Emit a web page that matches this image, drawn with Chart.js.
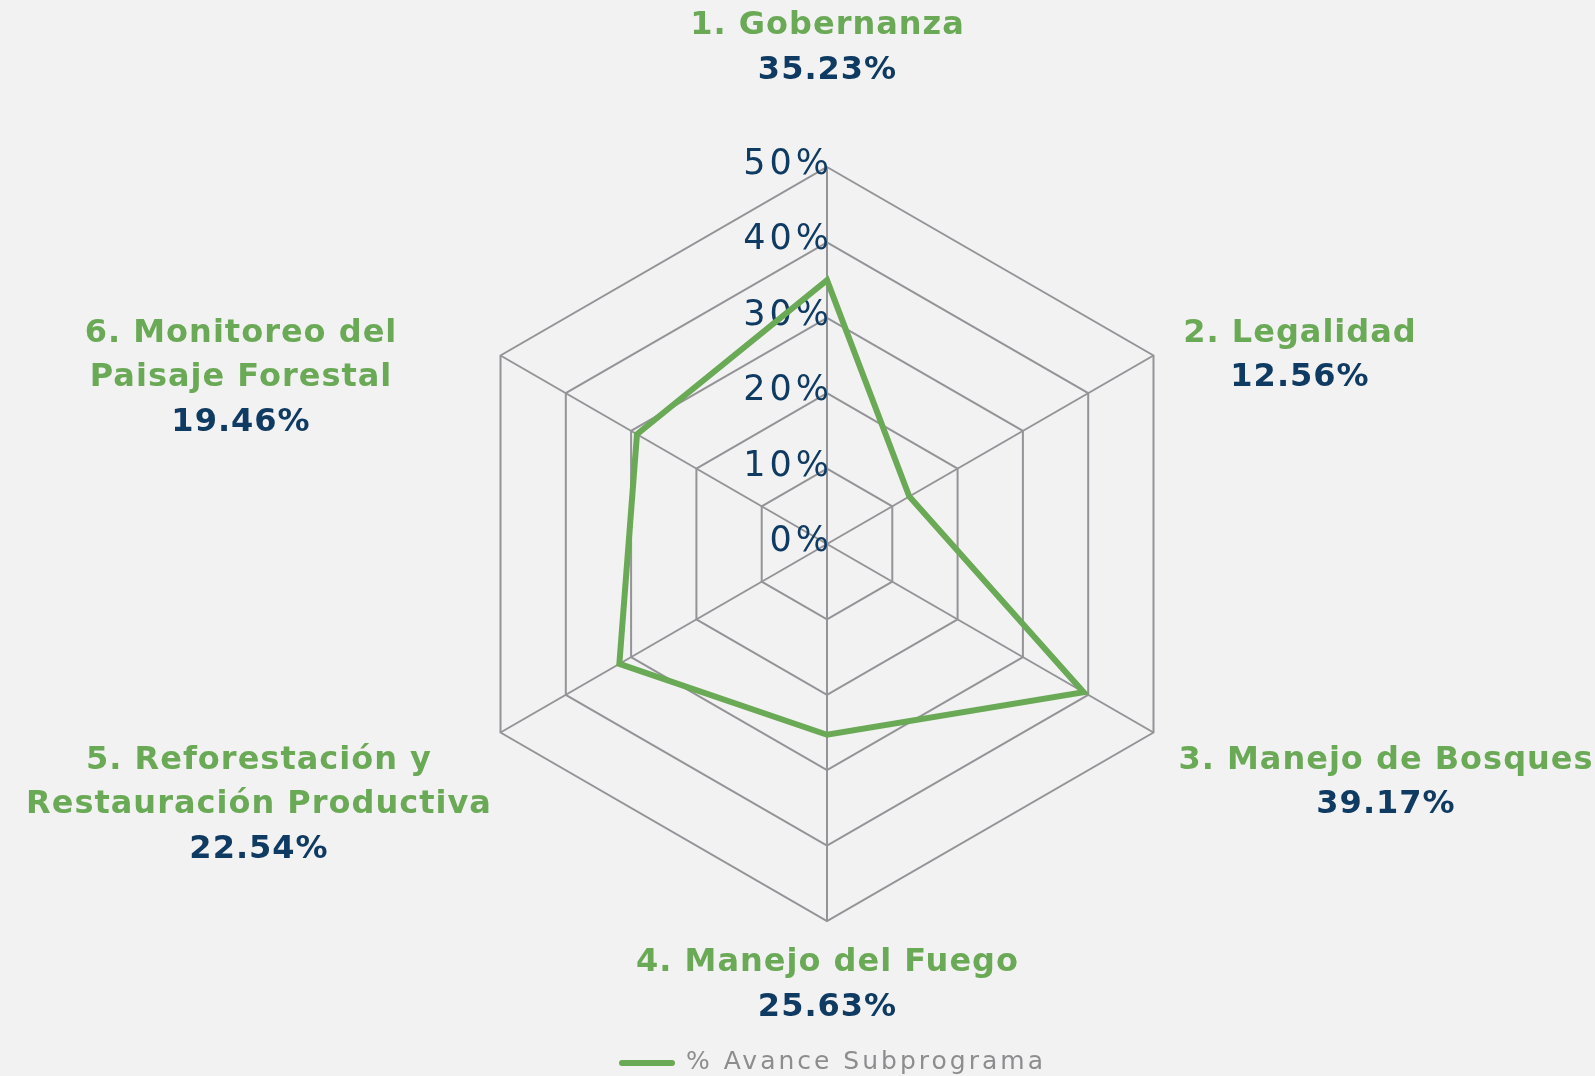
<!DOCTYPE html>
<html>
<head>
<meta charset="utf-8">
<script src="https://cdn.jsdelivr.net/npm/chart.js@4.4.1/dist/chart.umd.min.js"></script>
<style>
  html, body { margin: 0; padding: 0; background: #f2f2f2; }
  canvas { display: block; }
</style>
</head>
<body>
<canvas id="c" width="1595" height="1076"></canvas>
<script>
// ---- Data ----
const categories = [
  ["1. Gobernanza"],
  ["2. Legalidad"],
  ["3. Manejo de Bosques"],
  ["4. Manejo del Fuego"],
  ["5. Reforestación y", "Restauración Productiva"],
  ["6. Monitoreo del", "Paisaje Forestal"]
];
// values as drawn by the line in the picture
const values = [35.0, 12.6, 39.3, 25.3, 31.8, 29.1];
// value texts as printed under each category
const valueLabels = ["35.23%", "12.56%", "39.17%", "25.63%", "22.54%", "19.46%"];
const seriesName = "% Avance Subprograma";
const tickMin = 0, tickMax = 50, tickStep = 10;

// ---- Styles ----
const GREEN = '#6aa955';
const NAVY = '#0f3a62';
const GRID = '#949498';
const LABEL_FONT = '700 32px "DejaVu Sans"';
const LABEL_SPACING = 1;
const VALUE_SPACING = 1;
const TICK_FONT = '400 35px "DejaVu Sans"';
const TICK_SPACING = 4;

// label anchor offsets from each outer vertex (first line centre)
const labelOffsets = [
  [0, -141], [146, -22], [232, 28], [0, 42], [-242, 28], [-260, -22]
];
const LINE_H = 44.5;

const tickPlugin = {
  id: 'tickLabels',
  beforeDatasetsDraw(chart) {
    const s = chart.scales.r;
    const ctx = chart.ctx;
    ctx.save();
    ctx.font = TICK_FONT;
    ctx.letterSpacing = TICK_SPACING + 'px';
    ctx.fillStyle = NAVY;
    ctx.textAlign = 'right';
    ctx.textBaseline = 'middle';
    s.ticks.forEach(t => {
      const d = s.getDistanceFromCenterForValue(t.value);
      ctx.fillText(t.value + '%', s.xCenter + 2 + TICK_SPACING, s.yCenter - d - 2);
    });
    ctx.restore();
  }
};

const labelPlugin = {
  id: 'catLabels',
  afterDraw(chart) {
    const s = chart.scales.r;
    const ctx = chart.ctx;
    ctx.save();
    ctx.textAlign = 'center';
    ctx.textBaseline = 'middle';
    ctx.font = LABEL_FONT;
    categories.forEach((lines, i) => {
      const p = s.getPointPosition(i, s.drawingArea);
      const x = p.x + labelOffsets[i][0];
      let y = p.y + labelOffsets[i][1];
      ctx.fillStyle = GREEN;
      ctx.letterSpacing = LABEL_SPACING + 'px';
      lines.forEach(l => { ctx.fillText(l, x + LABEL_SPACING / 2, y); y += LINE_H; });
      ctx.fillStyle = NAVY;
      ctx.letterSpacing = VALUE_SPACING + 'px';
      ctx.fillText(valueLabels[i], x + VALUE_SPACING / 2, y);
    });
    // legend
    const lx = s.xCenter - 205, ly = 1063;
    ctx.strokeStyle = GREEN;
    ctx.lineWidth = 6;
    ctx.lineCap = 'round';
    ctx.beginPath();
    ctx.moveTo(lx, ly);
    ctx.lineTo(lx + 50, ly);
    ctx.stroke();
    ctx.font = '400 25px "DejaVu Sans"';
    ctx.letterSpacing = '3px';
    ctx.fillStyle = '#8d8d8f';
    ctx.textAlign = 'left';
    ctx.fillText(seriesName, lx + 64, ly - 1);
    ctx.restore();
  }
};

new Chart(document.getElementById('c'), {
  type: 'radar',
  data: {
    labels: categories,
    datasets: [{
      label: seriesName,
      data: values,
      borderColor: GREEN,
      backgroundColor: 'rgba(0,0,0,0)',
      borderWidth: 6,
      pointRadius: 0,
      fill: false,
      tension: 0
    }]
  },
  options: {
    responsive: false,
    devicePixelRatio: 1,
    animation: false,
    layout: { padding: { left: 450, right: 391, top: 167, bottom: 155 } },
    plugins: { legend: { display: false }, tooltip: { enabled: false } },
    scales: {
      r: {
        min: tickMin,
        max: tickMax,
        ticks: { stepSize: tickStep, display: false },
        grid: { color: GRID, lineWidth: 2 },
        angleLines: { color: GRID, lineWidth: 2 },
        pointLabels: { display: false }
      }
    }
  },
  plugins: [tickPlugin, labelPlugin]
});
</script>
</body>
</html>
